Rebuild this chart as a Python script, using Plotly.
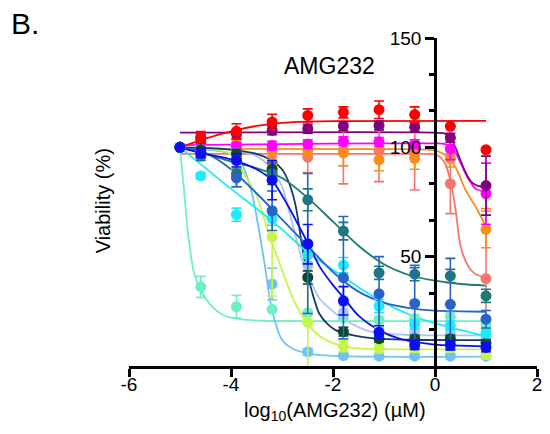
import plotly.graph_objects as go

# ---------------- data ----------------
log_conc = [-5.0, -4.592, -3.893, -3.194, -2.495, -1.796, -1.097, -0.398, 0.301, 1.0]

names = ["salmon", "orange", "magenta", "purple", "red", "aquamarine", "lightsky",
         "yellowgreen", "pale", "darkgreen", "teal", "cyan", "medblue", "blue"]

marker_colors = {
    "salmon": "#F47670", "orange": "#FB8C1C", "magenta": "#FF00FF", "purple": "#800080",
    "red": "#FF0000", "aquamarine": "#6EF0C4", "lightsky": "#6EC3F2", "yellowgreen": "#C6F54A",
    "pale": "#A7C7F2", "darkgreen": "#0B4A26", "teal": "#1D7A70", "cyan": "#1CEBFA",
    "medblue": "#2763C9", "blue": "#0D0DF2",
}
line_colors = dict(marker_colors)
line_colors["darkgreen"] = "#143C64"

viability = {
    "salmon":      [100, 98, 97, 93, 95.5, 98.3, 98.3, 97.5, 83.4, 40],
    "orange":      [100, 103, 101.5, 98.5, 98.5, 97.5, 94.3, 95, 95, 62.5],
    "magenta":     [100, 102, 100.5, 100.8, 101.5, 102.8, 102.5, 101.5, 99.4, 78.8],
    "purple":      [100, 104, 106, 107.8, 108.5, 109.7, 110, 109.2, 104.4, 82.5],
    "red":         [100, 104.7, 107.3, 111.6, 114.6, 116, 117.2, 115, 109.6, 98.9],
    "aquamarine":  [100, 36.2, 27.1, 25.9, 24.3, 22, 21, 21.5, 22.5, 19],
    "lightsky":    [100, 99, 96, 37.5, 6.5, 4.8, 4.5, 4.5, 4.5, 4.5],
    "yellowgreen": [100, 99, 90, 59, 20, 9, 8, 8.3, 8.3, 5.2],
    "pale":        [100, 99, 97, 88, 46, 24.5, 15.5, 15, 15, 13.5],
    "darkgreen":   [100, 99, 97, 90, 40.5, 15.7, 12.5, 12.5, 12.5, 10.5],
    "teal":        [100, 96, 88, 88, 76, 61.7, 42.6, 42, 41.2, 32.1],
    "cyan":        [100, 86.9, 69.2, 67.4, 50.7, 46.1, 27.4, 19, 18.5, 15],
    "medblue":     [100, 97, 86, 71, 56, 40.4, 33, 28.6, 28.2, 21.4],
    "blue":        [100, 97.4, 94, 85, 55.7, 29.8, 15.4, 9.6, 9.6, 8.5],
}

errors = {
    "salmon":      [0, 1.5, 2, 3, 7, 15, 14, 17, 13.7, 32],
    "orange":      [0, 2, 2, 3, 3, 6, 5, 5, 4, 8.4],
    "magenta":     [0, 1.5, 1.5, 2, 2, 2, 2, 2, 5, 14],
    "purple":      [0, 2, 2, 2, 2, 2, 2, 2, 2, 13.5],
    "red":         [0, 2.5, 3.5, 3.5, 3, 2.5, 4, 3.5, 0, 0],
    "aquamarine":  [0, 4.8, 5.2, 0, 0, 1.5, 1.5, 2, 2, 2],
    "lightsky":    [0, 1.5, 2, 7.2, 1.5, 1, 1, 1, 1, 1],
    "yellowgreen": [0, 1.5, 3, 27, 21, 2.5, 2, 2, 2, 2],
    "pale":        [0, 1, 2, 3, 4, 3, 2, 2, 2, 2],
    "darkgreen":   [0, 1, 2, 3, 3, 2, 1.5, 1.5, 1.5, 1.5],
    "teal":        [0, 2, 6, 5, 5, 4, 3, 3, 3, 3],
    "cyan":        [0, 1.5, 3, 3, 3, 3.5, 3, 2, 2, 2],
    "medblue":     [0, 2, 4, 9, 32, 28, 17, 17.5, 21, 4],
    "blue":        [0, 2, 3, 9, 9, 6.5, 3, 2, 2, 2],
}

# fitted curves (log10 conc, viability %)
curve_x = {
    "salmon":      [-5, -0.2, 0, 0.1, 0.2, 0.3, 0.4, 0.5, 0.6, 0.7, 0.8, 1],
    "orange":      [-5, -1, 0, 0.2, 0.4, 0.6, 0.8, 1],
    "magenta":     [-5, -3, -1, 0, 0.2, 0.3, 0.4, 0.5, 0.6, 0.7, 0.8, 1],
    "purple":      [-5, 0, 0.2, 0.3, 0.4, 0.5, 0.6, 0.7, 0.8, 0.9, 1],
    "red":         [-5, -4.5, -4, -3.5, -3, -2.5, -2, 1],
    "aquamarine":  [-5, -4.92, -4.85, -4.8, -4.73, -4.6, -4.4, -4.15, -3.8, -3.4, -2, 1],
    "lightsky":    [-5, -4.5, -4, -3.8, -3.6, -3.45, -3.33, -3.2, -3.0, -2.8, -2.5, -2, 1],
    "yellowgreen": [-5, -4.5, -4, -3.75, -3.5, -3.25, -3, -2.75, -2.5, -2.25, -2, -1.75, -1.5, -1, 1],
    "pale":        [-5, -4, -3.5, -3.2, -3.0, -2.85, -2.6, -2.4, -2.27, -2, -1.8, -1.3, -0.6, 1],
    "darkgreen":   [-5, -4, -3.5, -3.2, -3.0, -2.85, -2.73, -2.6, -2.5, -2.4, -2.27, -2.1, -1.95, -1.6, -1.2, -0.5, 1],
    "teal":        [-5, -4.5, -4, -3.5, -3, -2.5, -2, -1.5, -1, -0.5, 0, 0.5, 1],
    "cyan":        [-5, -4.5, -4, -3.5, -3, -2.5, -2, -1.5, -1, -0.5, 0, 0.5, 1],
    "medblue":     [-5, -4.5, -4, -3.5, -3, -2.5, -2, -1.5, -1, -0.5, 0, 0.5, 1],
    "blue":        [-5, -4.59, -4, -3.5, -3.2, -2.9, -2.5, -2.25, -2, -1.8, -1.5, -1.1, -0.7, -0.4, 0, 1],
}
curve_y = {
    "salmon":      [97, 97, 96.8, 95.5, 92.5, 85, 72, 55, 48, 44, 42, 40.3],
    "orange":      [99.3, 99.2, 98.6, 96.5, 91, 80.4, 72.7, 63.6],
    "magenta":     [101, 101.5, 101.8, 101.8, 101.5, 100.5, 97.5, 93, 88, 84, 81, 79.6],
    "purple":      [106.7, 106.7, 106.3, 104.5, 100, 94, 88.5, 84.5, 82.8, 82, 81.6],
    "red":         [100, 104, 107.3, 109.8, 111.2, 111.8, 112, 112.1],
    "aquamarine":  [100, 80, 62, 53, 43, 35, 28, 23.3, 21.3, 20.7, 20.5, 20.5],
    "lightsky":    [99.5, 99, 97, 93, 80, 62, 45, 26, 12, 8, 5.8, 4.6, 4.3],
    "yellowgreen": [100, 99.5, 97, 88, 78, 60, 44, 29, 19.5, 13.5, 10.5, 8.8, 8.1, 7.7, 7.6],
    "pale":        [100, 99, 96, 90, 82, 70, 48, 37, 31, 25, 21.5, 16, 14.3, 14],
    "darkgreen":   [100, 99, 97, 94, 90, 83, 73, 54, 42, 33, 24, 19, 16.4, 14, 12.6, 12, 11.8],
    "teal":        [100, 97, 93.5, 90.5, 86, 77, 66, 55, 46.5, 41.5, 39, 37.5, 36.8],
    "cyan":        [100, 90.5, 81, 72, 62.5, 52, 44, 36, 29, 23.5, 19.5, 16.5, 13.5],
    "medblue":     [100, 97.5, 90, 79, 67, 55, 43, 34, 29, 26.5, 25.3, 25, 24.8],
    "blue":        [100, 97.4, 94.5, 90, 85, 74, 56.5, 45, 37, 31.5, 23, 16.4, 12.5, 11, 9.8, 9],
}

x_tick_vals = [-6, -4, -2, 0, 2]
x_tick_text = ["-6", "-4", "-2", "0", "2"]
y_tick_vals = [50, 100, 150]
y_tick_text = ["50", "100", "150"]
y_minor_vals = [50 / 3, 100 / 3, 200 / 3, 250 / 3, 350 / 3, 400 / 3]

FONT = "Liberation Sans, Arial, Helvetica, sans-serif"

fig = go.Figure()

for n in names:
    fig.add_trace(go.Scatter(
        x=curve_x[n], y=curve_y[n], mode="lines",
        line=dict(color=line_colors[n], width=1.8, shape="spline", smoothing=0.8),
        showlegend=False, hoverinfo="skip"))

for n in names:
    fig.add_trace(go.Scatter(
        x=log_conc, y=viability[n], mode="markers",
        marker=dict(color=marker_colors[n], size=11, line=dict(width=0)),
        error_y=dict(type="data", array=errors[n], visible=True,
                     color=marker_colors[n], thickness=1.6, width=5),
        showlegend=False))

fig.update_layout(
    width=550, height=434,
    margin=dict(l=129, r=8, t=38, b=68),
    paper_bgcolor="white", plot_bgcolor="white",
    font=dict(family=FONT, color="black"),
    xaxis=dict(range=[-6, 2], showline=True, linewidth=2.5, linecolor="black",
               ticks="outside", ticklen=8, tickwidth=2.5, tickcolor="black",
               tickvals=x_tick_vals, ticktext=x_tick_text, ticklabelstandoff=-9,
               tickfont=dict(size=19, family=FONT, color="black"),
               showgrid=False, zeroline=False),
    yaxis=dict(range=[0, 150], anchor="free", position=0.75,
               showline=True, linewidth=2.5, linecolor="black",
               ticks="outside", ticklen=9, tickwidth=2.5, tickcolor="black",
               tickvals=y_tick_vals, ticktext=y_tick_text,
               tickfont=dict(size=19, family=FONT, color="black"),
               minor=dict(tickvals=y_minor_vals, ticks="outside", ticklen=5,
                          tickwidth=2.5, tickcolor="black"),
               showgrid=False, zeroline=False),
    annotations=[
        dict(text="B.", x=-0.293, y=1.102, xref="paper", yref="paper",
             xanchor="left", yanchor="top", showarrow=False,
             font=dict(size=30, family=FONT, color="black")),
        dict(text="AMG232", x=0.4915, y=0.915, xref="paper", yref="paper",
             xanchor="center", yanchor="middle", showarrow=False,
             font=dict(size=23, family=FONT, color="black")),
        dict(text="log<sub>10</sub>(AMG232) (µM)", x=0.504, y=-0.138,
             xref="paper", yref="paper", xanchor="center", yanchor="middle",
             showarrow=False, font=dict(size=20, family=FONT, color="black")),
        dict(text="Viability (%)", x=-0.063, y=0.503, xref="paper", yref="paper",
             xanchor="center", yanchor="middle", textangle=-90, showarrow=False,
             font=dict(size=20, family=FONT, color="black")),
    ],
)

fig.write_html("out.html")
